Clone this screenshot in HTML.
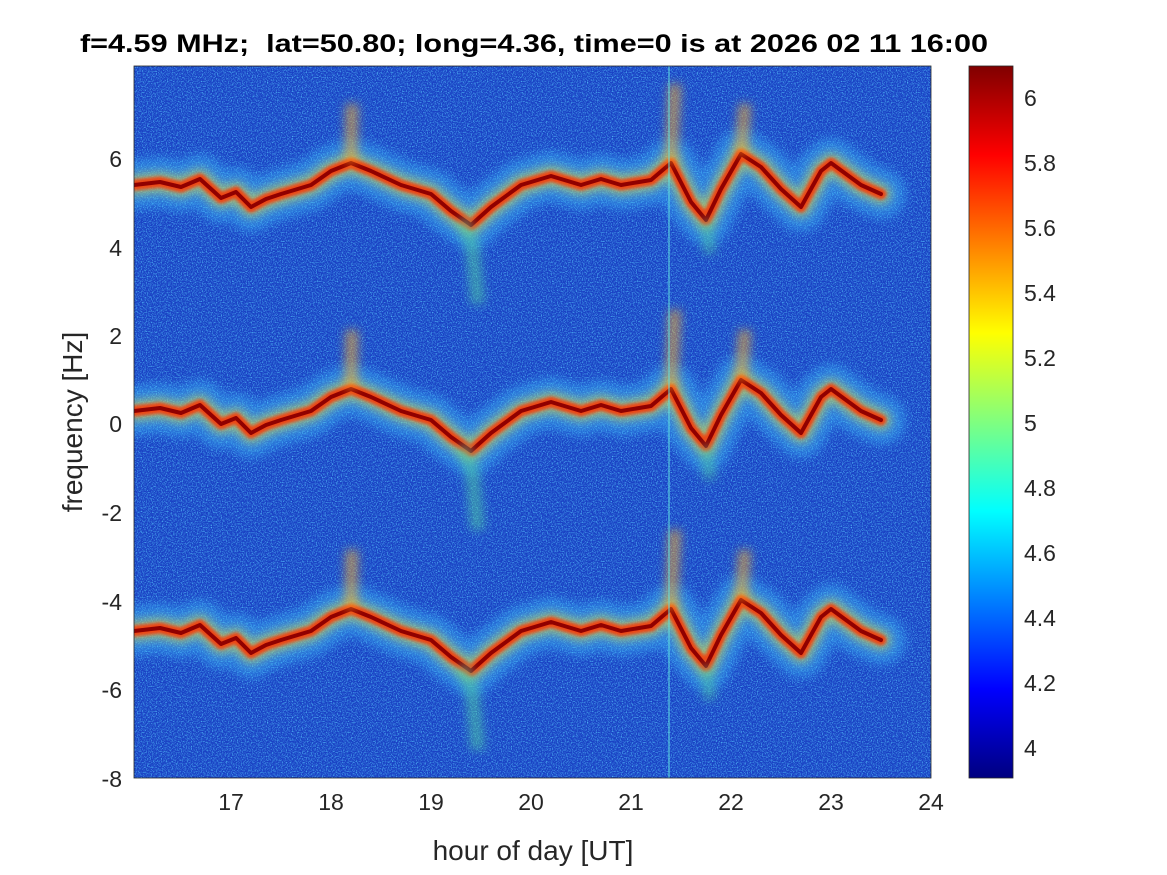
<!DOCTYPE html>
<html><head><meta charset="utf-8"><style>
body{margin:0;background:#fff;}
svg{display:block;font-family:"Liberation Sans",Arial,sans-serif;}
</style></head><body>
<svg width="1167" height="875" viewBox="0 0 1167 875" xmlns="http://www.w3.org/2000/svg">
<defs>
<filter id="noise" x="0" y="0" width="100%" height="100%">
<feTurbulence type="fractalNoise" baseFrequency="0.8" numOctaves="2" seed="3"/>
<feColorMatrix type="matrix" values="0 0 0 0 0.1  0 0 0 0 0.6  0 0 0 0 1  0 0 0 2.2 -1.0"/>
</filter>
<filter id="blur1" filterUnits="userSpaceOnUse" x="0" y="0" width="1167" height="875"><feGaussianBlur stdDeviation="5"/></filter>
<filter id="blur2" filterUnits="userSpaceOnUse" x="0" y="0" width="1167" height="875"><feGaussianBlur stdDeviation="1.5"/></filter>
<linearGradient id="jet" x1="0" y1="0" x2="0" y2="1">
<stop offset="0" stop-color="#800000"/><stop offset="0.125" stop-color="#ff0000"/>
<stop offset="0.375" stop-color="#ffff00"/><stop offset="0.625" stop-color="#00ffff"/>
<stop offset="0.875" stop-color="#0000ff"/><stop offset="1" stop-color="#000080"/>
</linearGradient>
<clipPath id="pc"><rect x="134" y="66" width="797" height="712"/></clipPath>
<path id="band" fill="none" stroke-linejoin="round" stroke-linecap="round" d="M134,411 L160,408 L181,413 L200,405 L221,424 L236,418 L251,433 L266,425 L281,420 L311,411 L331,397 L351,389 L371,397 L401,411 L431,420 L451,437 L471,451 L491,433 L521,411 L551,402 L581,411 L601,405 L621,411 L651,406 L671,389 L691,428 L706,446 L721,415 L741,380 L761,393 L781,415 L801,433 L821,397 L831,389 L861,411 L881,420"/>
<g id="bandset">
<use href="#band" stroke="#40c8ff" stroke-width="50" opacity="0.4" filter="url(#blur1)"/>
<use href="#band" stroke="#e0e040" stroke-width="20" opacity="0.6" filter="url(#blur1)"/>
<use href="#band" stroke="#ff3000" stroke-width="11" opacity="0.85" filter="url(#blur2)"/>
<use href="#band" stroke="#900000" stroke-width="4"/>
<path d="M462,445 L472,470 L478,530" stroke="#50d0a0" stroke-width="14" fill="none" opacity="0.55" filter="url(#blur1)"/>
<path d="M351,389 L352,330" stroke="#ffb020" stroke-width="12" fill="none" opacity="0.6" filter="url(#blur1)"/>
<path d="M671,389 L675,310" stroke="#ffb020" stroke-width="12" fill="none" opacity="0.6" filter="url(#blur1)"/>
<path d="M741,380 L745,330" stroke="#ffb020" stroke-width="12" fill="none" opacity="0.6" filter="url(#blur1)"/>
<path d="M706,446 L710,480" stroke="#50d0a0" stroke-width="12" fill="none" opacity="0.5" filter="url(#blur1)"/>
</g>
</defs>
<rect x="134" y="66" width="797" height="712" fill="#1a42c4"/>
<rect x="134" y="66" width="797" height="712" filter="url(#noise)"/>
<g clip-path="url(#pc)">
<use href="#bandset"/>
<use href="#bandset" transform="translate(0,-226)"/>
<use href="#bandset" transform="translate(0,220)"/>
<line x1="669" y1="66" x2="669" y2="778" stroke="#60e0e0" stroke-width="2" opacity="0.5"/>
</g>
<rect x="134" y="66" width="797" height="712" fill="none" stroke="#262626" stroke-width="0.8"/>
<g font-size="23" fill="#262626" text-anchor="middle">
<text x="231" y="810">17</text><text x="331" y="810">18</text><text x="431" y="810">19</text>
<text x="531" y="810">20</text><text x="631" y="810">21</text><text x="731" y="810">22</text>
<text x="831" y="810">23</text><text x="931" y="810">24</text>
</g>
<g font-size="23" fill="#262626" text-anchor="end">
<text x="122" y="167">6</text><text x="122" y="256">4</text><text x="122" y="344">2</text>
<text x="122" y="432">0</text><text x="122" y="521">-2</text><text x="122" y="610">-4</text>
<text x="122" y="698">-6</text><text x="122" y="787">-8</text>
</g>
<text x="533" y="860" font-size="28" fill="#262626" text-anchor="middle">hour of day [UT]</text>
<text transform="translate(82,422) rotate(-90)" font-size="28" fill="#262626" text-anchor="middle">frequency [Hz]</text>
<text x="80" y="52" font-size="25" font-weight="bold" fill="#000" textLength="908" lengthAdjust="spacingAndGlyphs" xml:space="preserve">f=4.59 MHz;  lat=50.80; long=4.36, time=0 is at 2026 02 11 16:00</text>
<rect x="969" y="66" width="44" height="712" fill="url(#jet)" stroke="#262626" stroke-width="0.8"/>
<g font-size="23" fill="#262626">
<text x="1024" y="106">6</text><text x="1024" y="171">5.8</text><text x="1024" y="236">5.6</text>
<text x="1024" y="301">5.4</text><text x="1024" y="366">5.2</text><text x="1024" y="431">5</text>
<text x="1024" y="496">4.8</text><text x="1024" y="561">4.6</text><text x="1024" y="626">4.4</text>
<text x="1024" y="691">4.2</text><text x="1024" y="756">4</text>
</g>
</svg>
</body></html>
